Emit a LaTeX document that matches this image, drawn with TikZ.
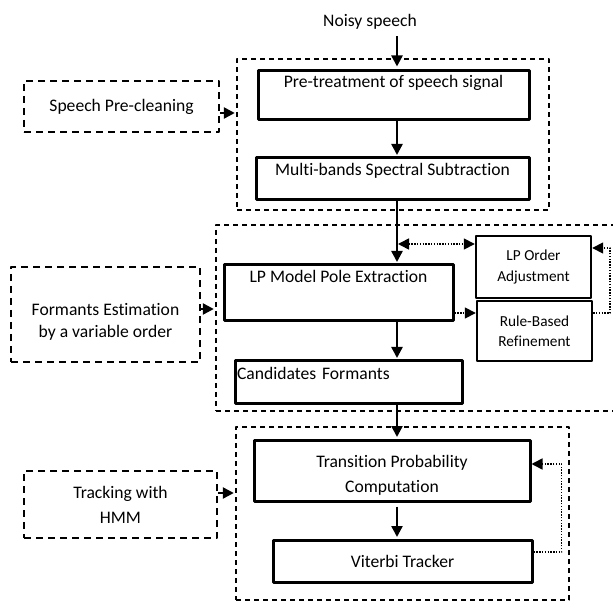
\documentclass[tikz,border=0pt]{standalone}
\usepackage{fontspec}
\setmainfont{Carlito}[Ligatures=NoCommon]
\usetikzlibrary{arrows.meta}
\begin{document}
\begin{tikzpicture}[x=1pt, y=-1pt, line join=round, >={Triangle[length=11pt,width=11pt]},
  font=\fontsize{17.6}{22}\selectfont,
  box/.style={draw, line width=3pt, inner sep=2pt},
  sbox/.style={draw, line width=2.4pt, inner sep=2pt, align=center, font=\fontsize{15.3}{20.5}\selectfont},
  side/.style={draw, line width=2.4pt, dash pattern=on 7pt off 5pt, align=center},
  group/.style={draw, line width=1.4pt, dash pattern=on 5pt off 4pt},
  flow/.style={->, line width=2.4pt, shorten >=1.5pt},
  dots/.style={->, line width=1.6pt, dash pattern=on 1.4pt off 1.4pt}]
\def\xa{397}
\useasboundingbox (0,0) rectangle (613,601);
\coordinate (ax) at (\xa,0);
% dashed groups
\node[group, minimum width=312pt, minimum height=151pt] (g1) at (393,134.5) {};
\node[group, minimum width=404pt, minimum height=186pt] (g2) at (418,318) {};
\node[group, minimum width=333pt, minimum height=173pt] (g3) at (402.5,513.5) {};
% left boxes
\node[side, minimum width=195pt, minimum height=51pt] (clean) at (121.5,106.5) {Speech Pre-cleaning};
\node[side, minimum width=189pt, minimum height=95pt, text height=51pt, text depth=4pt] (fest) at (105.5,314.5) {Formants Estimation\\by a variable order};
\node[side, minimum width=193pt, minimum height=67pt] (track) at (120.5,504.5) {Tracking with\\[3pt]HMM};
% main boxes
\node (noisy) at (370,22) {Noisy speech};
\node[box, minimum width=271pt, minimum height=49pt, text height=12pt, text depth=27pt] (pre) at (393.5,95.5) {Pre-treatment of speech signal};
\node[box, minimum width=273pt, minimum height=42pt, text height=12pt, text depth=18pt] (multi) at (392.5,179) {Multi-bands Spectral Subtraction};
\node[box, minimum width=229pt, minimum height=56pt, text height=12pt, text depth=32pt] (lpm) at (338.5,293) {LP Model Pole Extraction};
\node[sbox, minimum width=115pt, minimum height=62pt] (lpo) at (533.5,267) {LP Order\\Adjustment};
\node[sbox, minimum width=115pt, minimum height=60pt] (rule) at (534.5,331) {Rule-Based\\Refinement};
\node[box, minimum width=227pt, minimum height=42pt, text width=223pt, align=left, text height=12pt, text depth=16pt] (cand) at (348.5,382) {Candidates Formants};
\node[box, minimum width=276pt, minimum height=61pt, align=center, text height=47pt, text depth=4pt] (trans) at (392,470.5) {Transition Probability\\[3pt]Computation};
\node[box, minimum width=259pt, minimum height=42pt] (vit) at (402.5,561) {Viterbi Tracker};
% main flow
\draw[flow, shorten <=3pt, shorten >=3pt] (noisy.south -| ax) -- (pre.north -| ax);
\draw[flow] (pre.south -| ax) -- (multi.north -| ax);
\draw[flow] (multi.south -| ax) -- (lpm.north -| ax);
\draw[flow] (lpm.south -| ax) -- (cand.north -| ax);
\draw[flow] (cand.south -| ax) -- (trans.north -| ax);
\draw[flow, shorten <=4pt] (trans.south -| ax) -- (vit.north -| ax);
% side inputs
\draw[flow] ([yshift=-6.5pt]clean.east) -- ([yshift=-6.5pt]clean.east -| g1.west);
\draw[flow] ([yshift=5.5pt]fest.east) -- ([yshift=5.5pt]fest.east -| g2.west);
\draw[flow] ([yshift=11.5pt]track.east) -- ([yshift=11.5pt]track.east -| g3.west);
% dotted loops
\draw[dots, <->, shorten <=1pt] ([yshift=23pt]lpo.west -| ax) -- ([yshift=23pt]lpo.west);
\draw[dots] ([yshift=-20pt]lpm.east) -- ([yshift=-20pt]lpm.east -| rule.west);
\draw[dots] ([yshift=18pt]rule.east) -- ++(17,0) |- ([yshift=19pt]lpo.east);
\draw[dots] ([yshift=9pt]vit.east) -- ++(28,0) |- ([yshift=6.5pt]trans.east);
\end{tikzpicture}
\end{document}
